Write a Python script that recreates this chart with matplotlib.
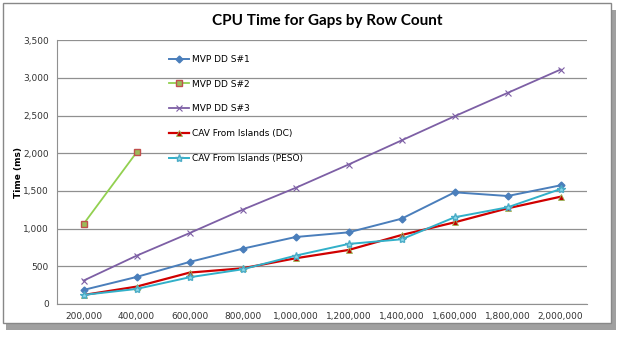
import numpy as np
import matplotlib.pyplot as plt
from matplotlib.patches import Rectangle

rows = ['200,000', '400,000', '600,000', '800,000', '1,000,000',
        '1,200,000', '1,400,000', '1,600,000', '1,800,000', '2,000,000']
s1 = [186, 358, 557, 733, 888, 950, 1131, 1481, 1432, 1574]
s2 = [1060, 2010]
s3 = [310, 640, 940, 1250, 1540, 1850, 2170, 2490, 2800, 3110]
dc = [119, 230, 416, 473, 606, 716, 915, 1083, 1269, 1423]
peso = [120, 199, 354, 460, 641, 796, 858, 1150, 1282, 1525]

fig = plt.figure(figsize=(6.3, 3.4), dpi=100)

# chart frame with shadow
fig.patches.append(Rectangle((0.010, 0.030), 0.968, 0.940, transform=fig.transFigure,
                             facecolor='#a0a0a0', edgecolor='none', zorder=0))
fig.patches.append(Rectangle((0.005, 0.050), 0.965, 0.940, transform=fig.transFigure,
                             facecolor='white', edgecolor='#888888', lw=1.0, zorder=1))

ax = fig.add_axes([0.0905, 0.106, 0.8415, 0.776])
ax.set_zorder(2)
ax.patch.set_alpha(0)

x = np.arange(len(rows))
ax.plot(x, s1, color='#4A7EBB', marker='D', ms=3.5, lw=1.4, label='MVP DD S#1')
ax.plot(x[:len(s2)], s2, color='#92D050', marker='s', ms=5, mfc='#9BBB59', mec='#C0504D',
        lw=1.3, label='MVP DD S#2')
ax.plot(x, s3, color='#7D5FA5', marker='x', ms=5, mew=0.8, lw=1.3, label='MVP DD S#3')
ax.plot(x, dc, color='#D00000', marker='^', ms=4, mfc='#C00000', mec='#9BBB59', mew=0.6,
        lw=1.6, label='CAV From Islands (DC)')
ax.plot(x, peso, color='#31B0C9', marker='*', ms=6, mfc='#8ad8ea', mec='#4BACC6', lw=1.4,
        label='CAV From Islands (PESO)')

ax.set_xlim(-0.5, len(rows) - 0.5)
ax.set_ylim(0, 3500)
ax.set_yticks(np.arange(0, 3501, 500))
ax.set_yticklabels([f'{v:,}' for v in range(0, 3501, 500)])
ax.set_xticks(x)
ax.set_xticklabels(rows)
ax.tick_params(axis='both', labelsize=6.5, length=0, colors='#333333', pad=6)
ax.grid(axis='y', color='#909090', lw=0.9)
ax.set_axisbelow(True)
for sp in ['top', 'right']:
    ax.spines[sp].set_visible(False)
for sp in ['left', 'bottom']:
    ax.spines[sp].set_color('#909090')

ax.set_ylabel('Time (ms)', fontsize=6.5, fontweight='bold', labelpad=0)
fig.text(0.52, 0.938, 'CPU Time for Gaps by Row Count', ha='center', va='center',
         fontsize=11, fontweight='bold', family='Lato')

ax.legend(loc='upper left', bbox_to_anchor=(0.195, 0.975), frameon=False, fontsize=6.5,
          labelspacing=1.75, handlelength=2.3, handletextpad=0.3)

fig.savefig('out.png', dpi=100)
